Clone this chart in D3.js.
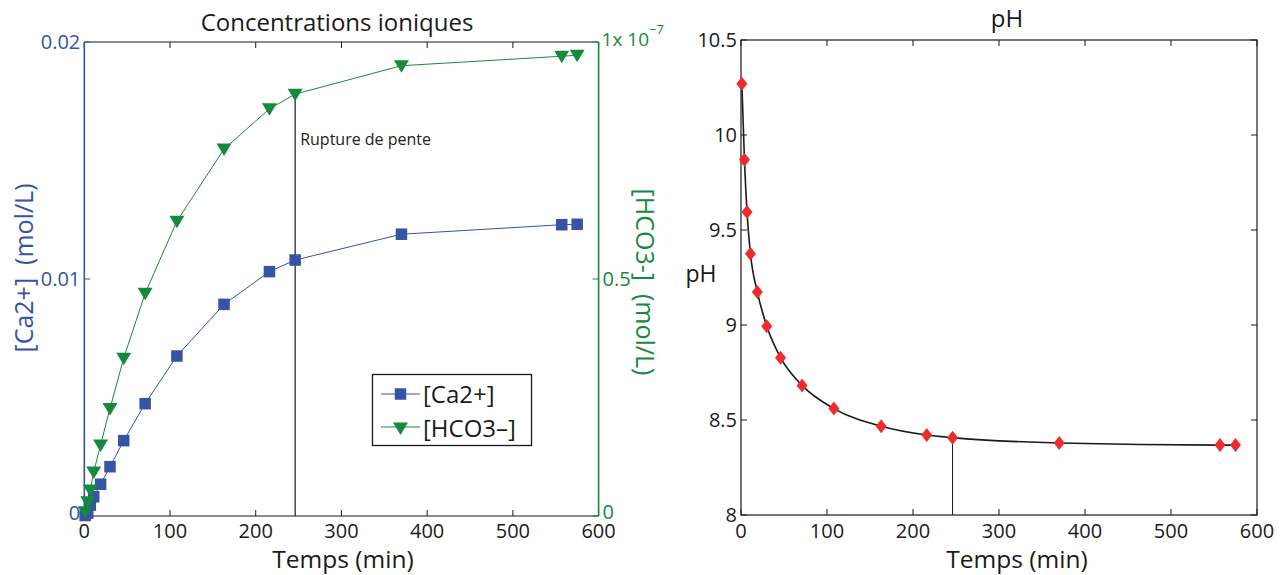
<!DOCTYPE html>
<html><head><meta charset="utf-8">
<script src="https://cdn.jsdelivr.net/npm/d3@7"></script>
<style>
body{margin:0;background:#fff;}
svg text{font-family:"Open Sans",sans-serif;}
</style></head>
<body><svg id="c" width="1288" height="575"></svg>
<script>
// ---- data ----
const times = [1, 4, 7, 11, 19, 30, 46, 71, 108, 163, 216, 246, 370, 557, 575];
const ca = [0.00002, 0.00012, 0.00046, 0.00081, 0.00134, 0.00208, 0.00318, 0.00474, 0.00675, 0.00893, 0.01031, 0.0108, 0.01189, 0.01229, 0.01231];
const hco3 = [0.009e-7, 0.030e-7, 0.055e-7, 0.093e-7, 0.150e-7, 0.227e-7, 0.333e-7, 0.470e-7, 0.622e-7, 0.774e-7, 0.859e-7, 0.890e-7, 0.950e-7, 0.970e-7, 0.972e-7];
const ph = [10.27, 9.87, 9.595, 9.375, 9.174, 8.993, 8.828, 8.682, 8.56, 8.467, 8.421, 8.407, 8.379, 8.368, 8.368];
const xTicks = [0, 100, 200, 300, 400, 500, 600];
const caTicks = [0, 0.01, 0.02];
const caTickLabels = ["0", "0.01", "0.02"];
const hcoTicks = [0, 0.5e-7, 1e-7];
const hcoTickLabels = ["0", "0.5", "1"];
const phTicks = [8, 8.5, 9, 9.5, 10, 10.5];
const phTickLabels = ["8", "8.5", "9", "9.5", "10", "10.5"];
const ruptureT = 246;
const legendLabels = ["[Ca2+]", "[HCO3\u2013]"];

const BLUE = "#3653a6", GREEN = "#168a3c", RED = "#ef2b2b", BLACK = "#1a1a1a";
const TICKFS = 20;
const svg = d3.select("#c");

// ---------- LEFT PLOT ----------
const L = {x0: 84.3, x1: 598.6, y0: 516, y1: 42};
const xL = d3.scaleLinear().domain([0, 600]).range([L.x0, L.x1]);
const yCa = d3.scaleLinear().domain([0, 0.02]).range([L.y0, L.y1]);
const yH = d3.scaleLinear().domain([0, 1e-7]).range([L.y0, L.y1]);
const gL = svg.append("g");

gL.append("line").attr("x1", L.x0).attr("x2", L.x1).attr("y1", L.y1).attr("y2", L.y1).attr("stroke", BLACK).attr("stroke-width", 1.2);
gL.append("line").attr("x1", L.x0).attr("x2", L.x1).attr("y1", L.y0).attr("y2", L.y0).attr("stroke", BLACK).attr("stroke-width", 1.2);
xTicks.forEach(t => {
  const x = xL(t);
  gL.append("line").attr("x1", x).attr("x2", x).attr("y1", L.y0).attr("y2", L.y0 - 6).attr("stroke", BLACK);
  gL.append("line").attr("x1", x).attr("x2", x).attr("y1", L.y1).attr("y2", L.y1 + 6).attr("stroke", BLACK);
  gL.append("text").attr("x", x).attr("y", 538).attr("text-anchor", "middle").attr("font-size", TICKFS).attr("fill", BLACK).text(t);
});
gL.append("line").attr("x1", L.x0).attr("x2", L.x0).attr("y1", L.y0).attr("y2", L.y1).attr("stroke", BLUE).attr("stroke-width", 1.6);
caTicks.forEach((v, i) => {
  const y = yCa(v);
  gL.append("line").attr("x1", L.x0).attr("x2", L.x0 + 6).attr("y1", y).attr("y2", y).attr("stroke", BLUE);
  gL.append("text").attr("x", L.x0 - 4).attr("y", y + (i === 0 ? 4 : 7)).attr("text-anchor", "end").attr("font-size", TICKFS).attr("fill", BLUE).text(caTickLabels[i]);
});
gL.append("line").attr("x1", L.x1).attr("x2", L.x1).attr("y1", L.y0).attr("y2", L.y1).attr("stroke", GREEN).attr("stroke-width", 1.6);
hcoTicks.forEach((v, i) => {
  const y = yH(v);
  gL.append("line").attr("x1", L.x1).attr("x2", L.x1 - 6).attr("y1", y).attr("y2", y).attr("stroke", GREEN);
  if (i < 2) gL.append("text").attr("x", L.x1 + 4).attr("y", y + (i === 0 ? 3 : 7)).attr("text-anchor", "start").attr("font-size", TICKFS).attr("fill", GREEN).text(hcoTickLabels[i]);
});
const mult = gL.append("text").attr("x", L.x1 + 3).attr("y", 46).attr("font-size", 19).attr("fill", GREEN);
mult.append("tspan").text(hcoTickLabels[2] + "x 10");
mult.append("tspan").attr("dy", -12).attr("font-size", 13).text("\u22127");

gL.append("text").attr("x", 337).attr("y", 31).attr("text-anchor", "middle").attr("font-size", 24).attr("fill", BLACK).text("Concentrations ioniques");
gL.append("text").attr("x", 343).attr("y", 568).attr("text-anchor", "middle").attr("font-size", 24.5).attr("fill", BLACK).text("Temps (min)");
gL.append("text").attr("transform", `translate(33,268) rotate(-90)`).attr("text-anchor", "middle").attr("font-size", 25).attr("fill", BLUE).attr("xml:space", "preserve").text("[Ca2+]  (mol/L)");
gL.append("text").attr("transform", `translate(636,282) rotate(90)`).attr("text-anchor", "middle").attr("font-size", 25).attr("fill", GREEN).attr("xml:space", "preserve").text("[HCO3-]  (mol/L)");

const iR = times.indexOf(ruptureT);
gL.append("line").attr("x1", xL(ruptureT)).attr("x2", xL(ruptureT)).attr("y1", L.y0).attr("y2", yH(hco3[iR])).attr("stroke", BLACK).attr("stroke-width", 1.2);
gL.append("text").attr("x", xL(ruptureT) + 5).attr("y", 145).attr("font-size", 16).attr("fill", "#222").text("Rupture de pente");

const caData = times.map((t, i) => [t, ca[i]]);
const hData = times.map((t, i) => [t, hco3[i]]);
gL.append("path").datum(caData).attr("fill", "none").attr("stroke", BLUE).attr("stroke-width", 1)
  .attr("d", d3.line().x(d => xL(d[0])).y(d => yCa(d[1])));
gL.append("path").datum(hData).attr("fill", "none").attr("stroke", GREEN).attr("stroke-width", 1)
  .attr("d", d3.line().x(d => xL(d[0])).y(d => yH(d[1])));
const sq = 11.5;
gL.selectAll(".sq").data(caData).join("rect").attr("x", d => xL(d[0]) - sq / 2).attr("y", d => yCa(d[1]) - sq / 2)
  .attr("width", sq).attr("height", sq).attr("fill", BLUE);
const tri = "M-7.5,-5.5 L7.5,-5.5 L0,7 Z";
gL.selectAll(".tri").data(hData).join("path").attr("transform", d => `translate(${xL(d[0])},${yH(d[1])})`)
  .attr("d", tri).attr("fill", GREEN);

// legend
const lg = gL.append("g");
lg.append("rect").attr("x", 372.5).attr("y", 374.5).attr("width", 159).attr("height", 71).attr("fill", "#fff").attr("stroke", BLACK).attr("stroke-width", 1.3);
lg.append("line").attr("x1", 381).attr("x2", 420).attr("y1", 394).attr("y2", 394).attr("stroke", BLUE);
lg.append("rect").attr("x", 400.5 - sq / 2).attr("y", 394 - sq / 2).attr("width", sq).attr("height", sq).attr("fill", BLUE);
lg.append("line").attr("x1", 381).attr("x2", 420).attr("y1", 427).attr("y2", 427).attr("stroke", GREEN);
lg.append("path").attr("transform", "translate(400.5,428)").attr("d", tri).attr("fill", GREEN);
lg.append("text").attr("x", 423).attr("y", 403).attr("font-size", 24).attr("fill", BLACK).text(legendLabels[0]);
lg.append("text").attr("x", 423).attr("y", 437).attr("font-size", 24).attr("fill", BLACK).text(legendLabels[1]);

// ---------- RIGHT PLOT ----------
const R = {x0: 741, x1: 1257, y0: 515, y1: 40};
const xR = d3.scaleLinear().domain([0, 600]).range([R.x0, R.x1]);
const yP = d3.scaleLinear().domain([8, 10.5]).range([R.y0, R.y1]);
const gR = svg.append("g");
gR.append("rect").attr("x", R.x0).attr("y", R.y1).attr("width", R.x1 - R.x0).attr("height", R.y0 - R.y1).attr("fill", "none").attr("stroke", BLACK).attr("stroke-width", 1.2);
xTicks.forEach(t => {
  const x = xR(t);
  gR.append("line").attr("x1", x).attr("x2", x).attr("y1", R.y0).attr("y2", R.y0 - 6).attr("stroke", BLACK);
  gR.append("line").attr("x1", x).attr("x2", x).attr("y1", R.y1).attr("y2", R.y1 + 6).attr("stroke", BLACK);
  gR.append("text").attr("x", x).attr("y", 538).attr("text-anchor", "middle").attr("font-size", TICKFS).attr("fill", BLACK).text(t);
});
phTicks.forEach((v, i) => {
  const y = yP(v);
  gR.append("line").attr("x1", R.x0).attr("x2", R.x0 + 6).attr("y1", y).attr("y2", y).attr("stroke", BLACK);
  gR.append("line").attr("x1", R.x1).attr("x2", R.x1 - 6).attr("y1", y).attr("y2", y).attr("stroke", BLACK);
  gR.append("text").attr("x", R.x0 - 4).attr("y", y + 7).attr("text-anchor", "end").attr("font-size", TICKFS).attr("fill", BLACK).text(phTickLabels[i]);
});
gR.append("text").attr("x", 1007).attr("y", 27).attr("text-anchor", "middle").attr("font-size", 24).attr("fill", BLACK).text("pH");
gR.append("text").attr("x", 701).attr("y", 282).attr("text-anchor", "middle").attr("font-size", 23).attr("fill", BLACK).text("pH");
gR.append("text").attr("x", 1017).attr("y", 568).attr("text-anchor", "middle").attr("font-size", 24.5).attr("fill", BLACK).text("Temps (min)");

const phData = times.map((t, i) => [t, ph[i]]);
gR.append("line").attr("x1", xR(ruptureT)).attr("x2", xR(ruptureT)).attr("y1", R.y0).attr("y2", yP(ph[iR])).attr("stroke", BLACK).attr("stroke-width", 1);
gR.append("path").datum(phData).attr("fill", "none").attr("stroke", BLACK).attr("stroke-width", 1.6)
  .attr("d", d3.line().curve(d3.curveMonotoneX).x(d => xR(d[0])).y(d => yP(d[1])));
gR.selectAll(".dm").data(phData).join("path").attr("transform", d => `translate(${xR(d[0])},${yP(d[1])})`)
  .attr("d", "M0,-7 L5.5,0 L0,7 L-5.5,0 Z").attr("fill", RED);
</script></body></html>
